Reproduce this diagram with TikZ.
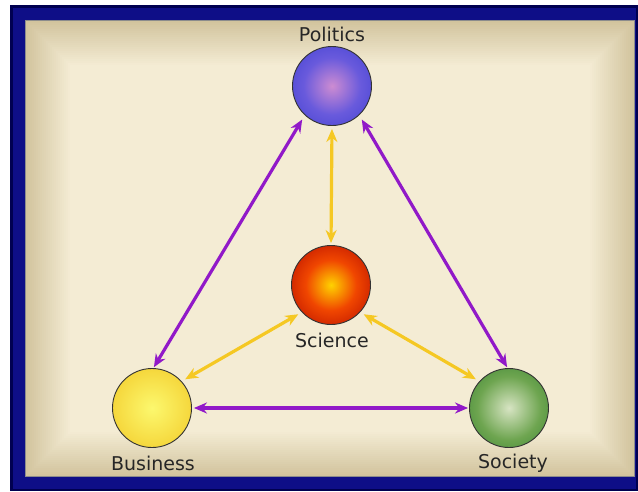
\documentclass[tikz,border=0pt]{standalone}
\usepackage{fontspec}
\setmainfont{DejaVu Sans}
\usetikzlibrary{arrows.meta}
\definecolor{navy}{RGB}{14,14,135}
\definecolor{navydark}{RGB}{0,0,80}
\definecolor{tanA}{RGB}{210,196,158}
\definecolor{tanB}{RGB}{244,236,212}
\definecolor{purp}{RGB}{145,25,200}
\definecolor{yell}{RGB}{245,200,35}
\definecolor{polA}{RGB}{205,140,210}
\definecolor{polB}{RGB}{105,90,220}
\definecolor{polC}{RGB}{65,65,210}
\definecolor{polD}{RGB}{40,40,150}
\definecolor{sciA}{RGB}{255,210,0}
\definecolor{sciB}{RGB}{240,70,0}
\definecolor{sciC}{RGB}{185,15,0}
\definecolor{sciD}{RGB}{90,0,0}
\definecolor{busA}{RGB}{252,248,110}
\definecolor{busB}{RGB}{245,215,60}
\definecolor{busC}{RGB}{228,175,30}
\definecolor{socA}{RGB}{215,228,195}
\definecolor{socB}{RGB}{110,165,80}
\definecolor{socC}{RGB}{55,130,50}
\definecolor{socD}{RGB}{30,90,35}
\pgfdeclareradialshading{polsh}{\pgfpoint{0bp}{0bp}}{color(0bp)=(polA); color(18bp)=(polB); color(36bp)=(polC); color(50bp)=(polD)}
\pgfdeclareradialshading{scish}{\pgfpoint{0bp}{0bp}}{color(0bp)=(sciA); color(16bp)=(sciB); color(34bp)=(sciC); color(50bp)=(sciD)}
\pgfdeclareradialshading{bussh}{\pgfpoint{0bp}{0bp}}{color(0bp)=(busA); color(25bp)=(busB); color(50bp)=(busC)}
\pgfdeclareradialshading{socsh}{\pgfpoint{0bp}{0bp}}{color(0bp)=(socA); color(20bp)=(socB); color(38bp)=(socC); color(50bp)=(socD)}
\tikzset{
  sphere/.style={circle, minimum size=79pt, inner sep=0pt, draw=black!80, line width=0.9pt},
  lbl/.style={font=\fontsize{19}{22}\selectfont, text=black!85, inner sep=0pt},
  parrow/.style={draw=purp, line width=3.2pt, {Stealth[length=13pt,width=11pt]}-{Stealth[length=13pt,width=11pt]}},
  yarrow/.style={draw=yell, line width=3.2pt, {Stealth[length=13pt,width=11pt]}-{Stealth[length=13pt,width=11pt]}}
}
\begin{document}
\begin{tikzpicture}[x=1pt,y=-1pt]
\useasboundingbox (0,0) rectangle (638,491);
\fill[white] (0,0) rectangle (638,491);
% frame
\fill[navydark] (10,5) rectangle (638,491);
\fill[navy] (13,8) rectangle (636,489);
\fill[black!45] (25,20) rectangle (635,477);
% beige bevel
\foreach \i in {0,...,22}{
  \pgfmathsetmacro{\p}{100*\i/22}
  \fill[tanB!\p!tanA] (26+2*\i,21+2*\i) rectangle (634-2*\i,476-2*\i);
}
% spheres
\node[sphere, shading=polsh] (pol) at (332,86) {};
\node[sphere, shading=scish] (sci) at (331,285) {};
\node[sphere, shading=bussh] (bus) at (152,408) {};
\node[sphere, shading=socsh] (soc) at (509,408) {};
% labels
\node[lbl] (lpol) at (332,34) {Politics};
\node[lbl] (lsci) at (332,340) {Science};
\node[lbl] (lbus) at (153,463) {Business};
\node[lbl] (lsoc) at (513,463) {Society};
% connectors
\draw[parrow, shorten <=5pt, shorten >=1pt] (pol.227) -- (bus.88);
\draw[parrow, shorten <=5pt, shorten >=1pt] (pol.313) -- (soc.92);
\draw[parrow, shorten <=2pt, shorten >=1pt] (bus.east) -- (soc.west);
\draw[yarrow, shorten <=3pt, shorten >=2pt] (pol.south) -- (sci.north);
\draw[yarrow, shorten <=4pt, shorten >=4pt] (sci.223) -- (bus.42);
\draw[yarrow, shorten <=4pt, shorten >=4pt] (sci.317) -- (soc.138);
\end{tikzpicture}
\end{document}
